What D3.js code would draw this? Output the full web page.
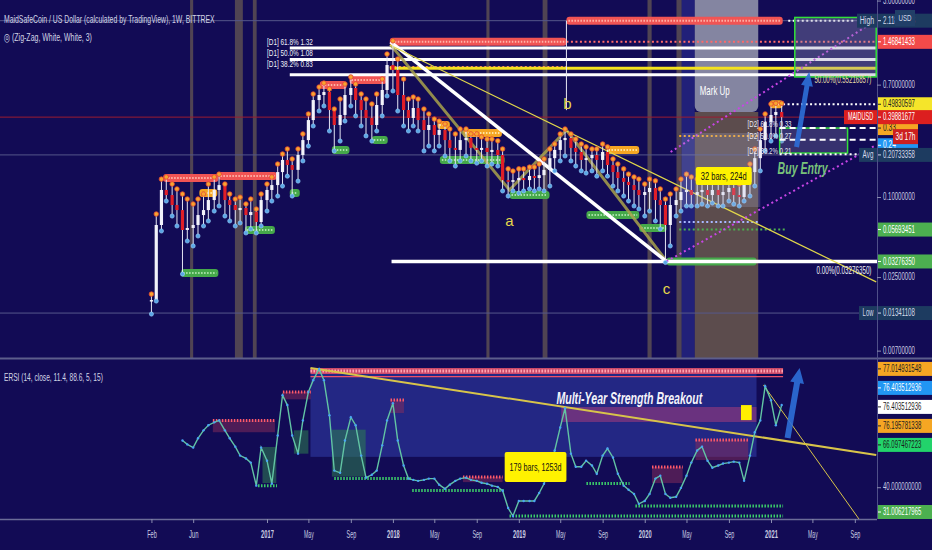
<!DOCTYPE html>
<html>
<head>
<meta charset="utf-8">
<title>MAIDUSD 1W</title>
<script src="https://cdn.jsdelivr.net/npm/d3@7/dist/d3.min.js"></script>
<style>
  html, body { margin: 0; padding: 0; background: #120b55; }
  svg text { font-family: "Liberation Sans Narrow", "Liberation Sans", "DejaVu Sans", sans-serif; }
</style>
</head>
<body>
<svg id="chart" width="932" height="550"></svg>
<script>
// ---------- data ----------
const candleDates = [
  "2016-02-01","2016-02-15","2016-03-01","2016-03-15","2016-04-01","2016-04-15","2016-05-01","2016-05-15","2016-06-01","2016-06-15","2016-07-01","2016-07-15",
  "2016-08-01","2016-08-15","2016-09-01","2016-09-15","2016-10-01","2016-10-15","2016-11-01","2016-11-15","2016-12-01","2016-12-15",
  "2017-01-01","2017-01-15","2017-02-01","2017-02-15","2017-03-01","2017-03-15","2017-04-01","2017-04-15","2017-05-01","2017-05-15","2017-06-01","2017-06-15",
  "2017-07-01","2017-07-15","2017-08-01","2017-08-15","2017-09-01","2017-09-15","2017-10-01","2017-10-15","2017-11-01","2017-11-15","2017-12-01","2017-12-15",
  "2018-01-01","2018-01-15","2018-02-01","2018-02-15","2018-03-01","2018-03-15","2018-04-01","2018-04-15","2018-05-01","2018-05-15","2018-06-01","2018-06-15",
  "2018-07-01","2018-07-15","2018-08-01","2018-08-15","2018-09-01","2018-09-15","2018-10-01","2018-10-15","2018-11-01","2018-11-15","2018-12-01","2018-12-15",
  "2019-01-01","2019-01-15","2019-02-01","2019-02-15","2019-03-01","2019-03-15","2019-04-01","2019-04-15","2019-05-01","2019-05-15","2019-06-01","2019-06-15",
  "2019-07-01","2019-07-15","2019-08-01","2019-08-15","2019-09-01","2019-09-15","2019-10-01","2019-10-15","2019-11-01","2019-11-15","2019-12-01","2019-12-15",
  "2020-01-01","2020-01-15","2020-02-01","2020-02-15","2020-03-01","2020-03-15","2020-04-01","2020-04-15","2020-05-01","2020-05-15","2020-06-01","2020-06-15",
  "2020-07-01","2020-07-15","2020-08-01","2020-08-15","2020-09-01","2020-09-15","2020-10-01","2020-10-15","2020-11-01","2020-11-15","2020-12-01","2020-12-15",
  "2021-01-01","2021-01-15","2021-02-01"
];
const candleHigh = [
  0.0183,0.0732,0.134,0.139,0.123,0.113,0.1035,0.0949,0.0871,0.0949,0.1035,0.123,0.139,0.146,0.123,0.1035,0.0949,0.098,0.0871,0.0949,0.0798,0.1035,
  0.123,0.139,0.174,0.207,0.226,0.190,0.226,0.293,0.414,0.585,0.660,0.707,0.638,0.451,0.536,0.695,0.785,0.695,0.585,0.536,0.492,0.585,0.758,1.169,
  1.46841433,1.072,0.758,0.536,0.555,0.536,0.451,0.414,0.379,0.366,0.348,0.319,0.293,0.319,0.319,0.293,0.293,0.278,0.268,0.268,0.260,0.226,0.160,0.154,
  0.160,0.160,0.165,0.165,0.174,0.190,0.226,0.246,0.293,0.319,0.293,0.268,0.246,0.234,0.226,0.226,0.246,0.234,0.190,0.174,0.160,0.146,0.139,0.134,
  0.123,0.134,0.130,0.113,0.0949,0.1035,0.113,0.134,0.146,0.139,0.134,0.139,0.134,0.139,0.130,0.134,0.139,0.130,0.123,0.146,0.174,0.226,0.319,0.414,
  0.492,0.498,0.498
];
const candleLow = [
  0.01341,0.0168,0.0565,0.0949,0.0732,0.0616,0.0268,0.0475,0.0436,0.0518,0.0616,0.0672,0.0798,0.0871,0.0732,0.0672,0.0616,0.0649,0.0546,0.0585,0.0546,0.0616,
  0.0798,0.0949,0.1035,0.123,0.146,0.1035,0.134,0.190,0.246,0.348,0.451,0.492,0.319,0.226,0.268,0.379,0.492,0.414,0.348,0.293,0.268,0.319,0.414,0.585,
  0.638,0.451,0.348,0.319,0.348,0.319,0.226,0.246,0.226,0.246,0.207,0.190,0.174,0.190,0.207,0.190,0.183,0.190,0.174,0.180,0.174,0.113,0.1035,0.113,
  0.109,0.113,0.117,0.113,0.117,0.113,0.123,0.160,0.190,0.207,0.190,0.174,0.160,0.154,0.160,0.146,0.160,0.146,0.123,0.113,0.1035,0.0949,0.0871,0.0827,
  0.0732,0.0798,0.0672,0.0585,0.03276,0.0436,0.0732,0.0798,0.0871,0.0871,0.0871,0.0901,0.0871,0.0917,0.0871,0.0871,0.0949,0.0901,0.0871,0.0949,0.1035,0.123,0.160,0.226,
  0.268,0.293,0.268
];
const candleClose = [
  0.0168,0.0616,0.113,0.1035,0.0871,0.0798,0.0565,0.0585,0.0616,0.0732,0.0798,0.0949,0.113,0.123,0.0949,0.0871,0.0798,0.0827,0.0732,0.0771,0.0649,0.0949,
  0.113,0.123,0.154,0.190,0.174,0.160,0.207,0.268,0.379,0.536,0.585,0.616,0.451,0.348,0.414,0.585,0.660,0.536,0.451,0.393,0.348,0.492,0.638,0.983,
  0.901,0.585,0.451,0.393,0.467,0.379,0.319,0.348,0.293,0.319,0.268,0.234,0.226,0.268,0.278,0.234,0.226,0.234,0.218,0.226,0.207,0.134,0.130,0.134,
  0.139,0.134,0.144,0.139,0.146,0.160,0.196,0.226,0.268,0.278,0.234,0.218,0.190,0.196,0.207,0.190,0.218,0.174,0.154,0.139,0.130,0.123,0.113,0.1035,
  0.109,0.117,0.0949,0.0871,0.0616,0.0871,0.0949,0.109,0.113,0.1035,0.109,0.113,0.1035,0.113,0.1035,0.109,0.117,0.1035,0.100,0.130,0.154,0.196,0.268,0.366,
  0.414,0.436,0.39881677
];
const ersiValues = [
  null,null,null,null,null,null,54.6,53.4,52.4,55.3,57.8,59.4,60.3,60.9,57.8,55.3,52.7,49.9,49.0,47.7,40.5,52.4,
  48.3,41.1,56.2,68.8,65.7,56.2,50.5,60.9,69.8,73.5,77.0,73.5,62.5,45.2,44.5,54.6,61.9,59.4,49.9,43.0,43.9,45.2,53.1,60.9,
  66.3,54.6,46.8,42.7,42.3,42.0,42.3,42.7,42.7,40.8,39.5,40.8,42.0,42.7,43.0,42.3,42.0,41.4,41.1,40.5,40.1,38.9,33.5,31.0,
  35.7,35.7,35.7,35.7,38.2,41.1,45.8,51.5,58.7,64.7,50.5,46.4,46.4,48.3,46.8,44.2,49.9,52.1,49.3,44.2,40.5,39.2,37.9,34.8,
  35.7,37.9,42.7,43.6,37.9,36.7,37.0,39.8,43.6,47.7,51.5,52.7,48.3,46.1,46.8,47.4,47.7,48.0,47.7,42.0,49.9,57.2,60.9,71.6,
  67.2,59.4,65.7
];

const xTickDates = ["2016-02-01","2016-06-01","2017-01-01","2017-05-01","2017-09-01","2018-01-01","2018-05-01","2018-09-01","2019-01-01","2019-05-01","2019-09-01","2020-01-01","2020-05-01","2020-09-01","2021-01-01","2021-05-01","2021-09-01"];
const xTickLabels = ["Feb","Jun","2017","May","Sep","2018","May","Sep","2019","May","Sep","2020","May","Sep","2021","May","Sep"];
const priceTicks = [3, 0.7, 0.1, 0.025, 0.007];
const ersiTicks = [40];

// time shading bands
const timeBands = [["2016-05-23","2016-06-01"],["2016-09-30","2016-10-23"],["2016-11-21","2016-12-02"],["2018-09-29","2018-10-08"],["2019-03-11","2019-03-25"],["2020-01-09","2020-01-21"],["2020-04-02","2020-04-17"]];
const markUpStrip = ["2020-04-17","2020-05-25"];
const markUpRange = ["2020-05-25","2020-11-25"];
const markUpBottom = 0.436;

// supply / demand zones [start, end, price]
const redZones = [["2016-03-06","2016-08-13",0.139],["2016-08-13","2017-01-30",0.144],["2017-06-03","2017-08-20",0.695],["2017-08-28","2017-12-14",0.758],["2017-12-23","2019-05-19",1.46841433],["2019-05-19","2021-02-04",2.118]];
const orangeZones = [["2016-06-19","2016-08-10",0.107],["2018-05-10","2018-06-15",0.348],["2018-07-23","2018-11-13",0.303],["2019-09-12","2019-12-16",0.226],["2020-12-28","2021-02-04",0.4983]];
const greenZones = [["2016-04-27","2016-08-13",0.0268],["2016-10-29","2017-01-24",0.0565],["2017-03-08","2017-04-06",0.107],["2017-07-08","2017-08-28",0.226],["2017-11-01","2017-12-17",0.268],["2018-05-17","2018-11-21",0.190],["2018-12-05","2019-03-31",0.1035],["2019-07-16","2019-12-16",0.0732],["2019-12-16","2020-03-04",0.0585],["2020-03-04","2020-11-20",0.0327635]];
const dottedLevels = [["2020-04-10","2020-11-25",0.288],["2020-04-10","2020-11-25",0.0649],["2020-04-10","2021-02-10",0.05693451],["2021-02-05","2021-11-02",0.49830597],["2021-02-20","2021-09-01",2.118],["2019-05-19","2021-11-02",1.46841433],["2017-12-23","2019-05-19",0.95]];
const dottedLevelColors = ["#f5a623","#a8b8ff","#4caf50","#ffffff","#ffffff","#ff6a6a","#ff7a6a"];

// fibonacci levels
const fibD1Values = [1.32, 1.08, 0.83];
const fibD1Labels = ["[D1] 61.8% 1.32","[D1] 50.0% 1.08","[D1] 38.2% 0.83"];
const fibD1Start = "2017-03-08";
const fibD1LabelDate = "2017-01-01";
const fibD2Values = [0.33, 0.27, 0.21];
const fibD2Labels = ["[D2] 61.8% 0.33","[D2] 50.0% 0.27","[D2] 38.2% 0.21"];
const fibD2LabelDate = "2020-10-25";
const yellowLevel = ["2017-12-23", 0.93];
const cLevel = ["2017-12-28", 0.0327635];

// zig-zag and trend lines
const zigWhite = [["2017-12-25",1.46841433],["2020-03-04",0.0327635]];
const zigOlive = [["2017-12-25",1.40],["2018-12-05",0.113],["2019-05-19",0.319],["2020-03-04",0.0330]];
const trendYellow = [["2017-12-23",1.39],["2021-11-02",0.0230]];
const channelUpper = [["2020-03-16",0.218],["2021-11-02",2.14]];
const channelLower = [["2020-03-04",0.0328],["2021-11-02",0.246]];
const bLine = ["2019-05-19", 2.118, 0.45];

const waveLabels = ["a","b","c"];
const waveDates = ["2018-12-05","2019-05-22","2020-03-04"];
const waveValues = [0.0649, 0.49, 0.0200];

// boxes [start, end, top, bottom]
const measureBox = ["2020-04-17","2020-12-01",0.303,0.0841];
const barsBoxUpper = ["2020-05-28","2020-11-06",0.168,0.123];
const targetBox = ["2021-03-11","2021-11-02",2.24,0.80];
const entryBox = ["2021-01-26","2021-08-11",0.330,0.214];
const upperArrow = [["2021-03-16",0.2377],["2021-04-22",0.871]];

const priceBadgeValues = [2.11826858, 1.46841433, 0.49830597, 0.39881677, 0.20733358, 0.05693451, 0.0327635, 0.01341108];
const priceBadgeTags = ["High", null, null, "MAIDUSD", "Avg", null, null, "Low"];
const lastPrice = 0.39881677;
const avgPrice = 0.20733358;
const lowPrice = 0.01341108;
const highPrice = 2.11826858;

// ERSI pane
const ersiZone = ["2017-05-07","2020-11-20",77.0,49.5];
const ersiResistance = ["2017-05-07","2021-02-05",77.014931548];
const ersiPinkBand = ["2019-05-04","2020-11-20",65.1,60.4];
const ersiBoxesUp = [["2017-07-08","2017-10-14",58.0,43.3],["2016-12-19","2017-01-28",52.6,41.3],["2017-03-20","2017-05-01",57.8,50.5]];
const ersiBoxesDown = [["2016-07-28","2017-01-24",60.9,57.2],["2017-02-16","2017-05-08",69.8,67.5],["2017-12-25","2018-02-02",67.3,63.2],["2020-01-22","2020-04-20",46.3,41.3],["2020-05-27","2020-10-27",54.8,48.5],["2018-07-23","2018-11-15",43.2,41.6]];
const ersiSupports = [["2016-12-06","2017-01-30",40.5],["2017-07-15","2018-02-26",42.7],["2018-02-26","2018-11-21",39.0],["2019-07-16","2019-11-18",41.2],["2019-12-05","2021-02-05",34.1],["2018-12-05","2021-02-05",31.0]];
const ersiTrendA = [["2017-05-07",77.3],["2021-11-02",50.1]];
const ersiTrendB = [["2020-12-10",72.0],["2021-09-13",30.06]];
const ersiFlag = ["2020-10-06","2020-11-06",65.7,61.0];
const barsBoxLower = ["2018-11-21","2019-05-19",51.0,41.6];
const lowerArrow = [["2021-02-18",55.4],["2021-03-25",77.3]];
const ersiTextAnchor = ["2019-04-20", 67.3];
const ersiBadgeValues = [77.014931548, 76.403512936, 76.403512936, 76.195781338, 66.097467223, 31.006217965];

// ---------- setup ----------
const parse = d3.timeParse("%Y-%m-%d");
const fmt8 = d3.format(".8f");
const fmt9 = d3.format(".9f");

const width = 932, height = 550;
const plotRight = 877;
const mainBottom = 358, subTop = 360, subBottom = 519;
const textColor = "#c9cce2";

const svg = d3.select("#chart");
svg.append("rect").attr("width", width).attr("height", height).attr("fill", "#120b55");

const x = d3.scaleTime()
  .domain([parse("2017-01-01"), parse("2021-01-01")])
  .range([267, 771]);
x.domain([x.invert(0), x.invert(plotRight)]).range([0, plotRight]);

const y = d3.scaleLog().domain([0.00616, 3.03]).range([mainBottom, 0]);
const yE = d3.scaleLinear().domain([30.06, 79.8]).range([subBottom, subTop]);
const xd = d => x(parse(d));

const candles = candleDates.map((d, i) => ({
  date: parse(d),
  high: candleHigh[i],
  low: candleLow[i],
  close: candleClose[i],
  open: i > 0 ? candleClose[i - 1] : candleClose[i],
  ersi: ersiValues[i]
}));

const defs = svg.append("defs");
defs.append("clipPath").attr("id", "clipMain")
  .append("rect").attr("width", plotRight).attr("height", mainBottom);
defs.append("clipPath").attr("id", "clipSub")
  .append("rect").attr("y", subTop).attr("width", plotRight).attr("height", subBottom - subTop);

const main = svg.append("g").attr("clip-path", "url(#clipMain)");
const sub = svg.append("g").attr("clip-path", "url(#clipSub)");

// squeeze a text horizontally so it takes the given width (narrow TradingView look)
const squeeze = (t, px, py, w) => {
  const natural = t.node().getComputedTextLength();
  const sx = natural > 0 ? w / natural : 1;
  t.attr("x", 0).attr("y", 0).attr("transform", `translate(${px},${py}) scale(${sx},1)`);
};

const addText = (parent, px, py, str, size, fill, opts = {}) => {
  const t = parent.append("text")
    .attr("x", px).attr("y", py)
    .attr("font-size", size).attr("fill", fill)
    .attr("dominant-baseline", "middle")
    .text(str);
  if (opts.anchor) t.attr("text-anchor", opts.anchor);
  if (opts.weight) t.attr("font-weight", opts.weight);
  if (opts.style) t.attr("font-style", opts.style);
  if (opts.family) t.attr("font-family", opts.family);
  if (opts.width) squeeze(t, px, py, opts.width);
  return t;
};

const linePath = (pts, ys) => d3.line().x(d => xd(d[0])).y(d => ys(d[1]))(pts);

const arrowPath = (x0, y0, x1, y1, shaft, head, headLen) => {
  const L = Math.hypot(x1 - x0, y1 - y0);
  const ux = (x1 - x0) / L, uy = (y1 - y0) / L, px = -uy, py = ux;
  const bx = x1 - ux * headLen, by = y1 - uy * headLen;
  const pts = [
    [x0 + px * shaft / 2, y0 + py * shaft / 2],
    [bx + px * shaft / 2, by + py * shaft / 2],
    [bx + px * head / 2, by + py * head / 2],
    [x1, y1],
    [bx - px * head / 2, by - py * head / 2],
    [bx - px * shaft / 2, by - py * shaft / 2],
    [x0 - px * shaft / 2, y0 - py * shaft / 2]
  ];
  return "M" + pts.join("L") + "Z";
};

// ---------- main pane ----------
// background shading
main.selectAll(".band")
  .data(timeBands)
  .join("rect")
  .attr("class", "band")
  .attr("x", d => xd(d[0]))
  .attr("width", d => xd(d[1]) - xd(d[0]))
  .attr("y", 0).attr("height", mainBottom)
  .attr("fill", "#7a6a52").attr("opacity", 0.6);

main.append("rect")
  .attr("x", xd(markUpStrip[0])).attr("width", xd(markUpStrip[1]) - xd(markUpStrip[0]))
  .attr("y", 0).attr("height", mainBottom)
  .attr("fill", "#3a40b0").attr("opacity", 0.4);

main.append("rect")
  .attr("x", xd(markUpRange[0])).attr("width", xd(markUpRange[1]) - xd(markUpRange[0]))
  .attr("y", y(markUpBottom)).attr("height", mainBottom - y(markUpBottom))
  .attr("fill", "#6a584c").attr("opacity", 0.85);

// Mark Up box
main.append("rect")
  .attr("x", xd(markUpRange[0])).attr("width", xd(markUpRange[1]) - xd(markUpRange[0]))
  .attr("y", -8).attr("height", y(markUpBottom) + 8)
  .attr("rx", 6)
  .attr("fill", "#8e90a8").attr("opacity", 0.92);

// reference lines
main.selectAll(".ref")
  .data([highPrice, avgPrice, lowPrice])
  .join("line")
  .attr("class", "ref")
  .attr("x1", 0).attr("x2", plotRight)
  .attr("y1", d => y(d)).attr("y2", d => y(d))
  .attr("stroke", "#55578a").attr("stroke-width", 1);

main.append("line")
  .attr("x1", 0).attr("x2", plotRight)
  .attr("y1", y(lastPrice)).attr("y2", y(lastPrice))
  .attr("stroke", "#9c1c30").attr("stroke-width", 1);

// zones
const drawZones = (data, fill, dot) => {
  const g = main.append("g");
  g.selectAll("rect")
    .data(data)
    .join("rect")
    .attr("x", d => xd(d[0]))
    .attr("width", d => xd(d[1]) - xd(d[0]))
    .attr("y", d => y(d[2]) - 4).attr("height", 8)
    .attr("rx", 3)
    .attr("fill", fill);
  g.selectAll("line")
    .data(data)
    .join("line")
    .attr("x1", d => xd(d[0]) + 2).attr("x2", d => xd(d[1]) - 2)
    .attr("y1", d => y(d[2])).attr("y2", d => y(d[2]))
    .attr("stroke", dot).attr("stroke-width", 2)
    .attr("stroke-dasharray", "1.5 1.5");
};
drawZones(redZones, "#f05454", "#ffb4a8");
drawZones(orangeZones, "#f5a623", "#ffe2a0");
drawZones(greenZones, "#45a84a", "#a8e2a8");

main.selectAll(".dlevel")
  .data(dottedLevels)
  .join("line")
  .attr("class", "dlevel")
  .attr("x1", d => xd(d[0])).attr("x2", d => xd(d[1]))
  .attr("y1", d => y(d[2])).attr("y2", d => y(d[2]))
  .attr("stroke", (d, i) => dottedLevelColors[i])
  .attr("stroke-width", 2)
  .attr("stroke-dasharray", "2 2.5");

// fib lines
main.selectAll(".fib1")
  .data(fibD1Values)
  .join("line")
  .attr("class", "fib1")
  .attr("x1", xd(fibD1Start)).attr("x2", plotRight)
  .attr("y1", d => y(d)).attr("y2", d => y(d))
  .attr("stroke", "#ffffff").attr("stroke-width", 3);

main.append("line")
  .attr("x1", xd(yellowLevel[0])).attr("x2", plotRight)
  .attr("y1", y(yellowLevel[1])).attr("y2", y(yellowLevel[1]))
  .attr("stroke", "#f4e21e").attr("stroke-width", 3);

main.append("line")
  .attr("x1", xd(cLevel[0])).attr("x2", plotRight)
  .attr("y1", y(cLevel[1])).attr("y2", y(cLevel[1]))
  .attr("stroke", "#ffffff").attr("stroke-width", 3.5);

// zig-zags and trend lines
main.append("path").attr("d", linePath(zigOlive, y))
  .attr("fill", "none").attr("stroke", "#a8a24c").attr("stroke-width", 3).attr("opacity", 0.85);
main.append("path").attr("d", linePath(zigWhite, y))
  .attr("fill", "none").attr("stroke", "#ffffff").attr("stroke-width", 3.5);
main.append("path").attr("d", linePath(trendYellow, y))
  .attr("fill", "none").attr("stroke", "#e2d84a").attr("stroke-width", 1.2);
main.selectAll(".chan")
  .data([channelUpper, channelLower])
  .join("path")
  .attr("class", "chan")
  .attr("d", d => linePath(d, y))
  .attr("fill", "none").attr("stroke", "#c845e6").attr("stroke-width", 2)
  .attr("stroke-dasharray", "2 3");
main.append("line")
  .attr("x1", xd(bLine[0])).attr("x2", xd(bLine[0]))
  .attr("y1", y(bLine[1])).attr("y2", y(bLine[2]))
  .attr("stroke", "#e8e8f4").attr("stroke-width", 1);

// candles
const wickG = main.append("g");
wickG.selectAll("line")
  .data(candles)
  .join("line")
  .attr("x1", d => x(d.date)).attr("x2", d => x(d.date))
  .attr("y1", d => y(d.high)).attr("y2", d => y(d.low))
  .attr("stroke", "#e4e4f2").attr("stroke-width", 1);

const bodyG = main.append("g");
bodyG.selectAll("rect")
  .data(candles)
  .join("rect")
  .attr("x", d => x(d.date) - 1.6).attr("width", 3.2)
  .attr("y", d => y(Math.max(d.open, d.close)))
  .attr("height", d => Math.max(1.5, Math.abs(y(d.open) - y(d.close))))
  .attr("fill", d => d.close >= d.open ? "#f2f2fa" : "#e01e28");

const markG = main.append("g");
markG.selectAll(".hi")
  .data(candles)
  .join("circle")
  .attr("class", "hi")
  .attr("cx", d => x(d.date)).attr("cy", d => y(d.high) - 1)
  .attr("r", 2.3)
  .attr("fill", "#f7a531").attr("stroke", "#e2452f").attr("stroke-width", 0.8);
markG.selectAll(".lo")
  .data(candles)
  .join("circle")
  .attr("class", "lo")
  .attr("cx", d => x(d.date)).attr("cy", d => y(d.low) + 1)
  .attr("r", 2.1)
  .attr("fill", "#5aa6e6").attr("stroke", "#9ad4ff").attr("stroke-width", 0.6);

// measurement / target boxes
const boxAttrs = (sel, b, ys) => sel
  .attr("x", xd(b[0])).attr("width", xd(b[1]) - xd(b[0]))
  .attr("y", ys(b[2])).attr("height", ys(b[3]) - ys(b[2]));

boxAttrs(main.append("rect"), measureBox, y).attr("fill", "#b8bce0").attr("opacity", 0.22);
boxAttrs(main.append("rect"), targetBox, y)
  .attr("fill", "#9a9cbc").attr("fill-opacity", 0.35)
  .attr("stroke", "#33e03a").attr("stroke-width", 1.5);
boxAttrs(main.append("rect"), entryBox, y)
  .attr("fill", "#8a8cac").attr("fill-opacity", 0.3)
  .attr("stroke", "#33e03a").attr("stroke-width", 1.5);

main.selectAll(".fib2")
  .data(fibD2Values)
  .join("line")
  .attr("class", "fib2")
  .attr("x1", xd(entryBox[0])).attr("x2", plotRight)
  .attr("y1", d => y(d)).attr("y2", d => y(d))
  .attr("stroke", "#ffffff").attr("stroke-width", 2)
  .attr("stroke-dasharray", (d, i) => i < 2 ? "6 4" : "2 3");

fibD2Labels.forEach((t, i) => {
  addText(main, xd(fibD2LabelDate), y(fibD2Values[i]) - 3, t, 9, "#e8e8f4", { width: 44 });
});

boxAttrs(main.append("rect"), barsBoxUpper, y).attr("fill", "#fff200").attr("rx", 2);
addText(main, (xd(barsBoxUpper[0]) + xd(barsBoxUpper[1])) / 2, (y(barsBoxUpper[2]) + y(barsBoxUpper[3])) / 2 + 1,
  "32 bars, 224d", 11, "#111111", { anchor: "middle", width: 46, family: "Liberation Serif, serif" });

main.append("path")
  .attr("d", arrowPath(xd(upperArrow[0][0]), y(upperArrow[0][1]), xd(upperArrow[1][0]), y(upperArrow[1][1]), 5, 12, 14))
  .attr("fill", "#2d6fd8").attr("opacity", 0.9);

// texts in main pane
fibD1Labels.forEach((t, i) => {
  addText(main, xd(fibD1LabelDate), y(fibD1Values[i]) - 6 - (i === 2 ? 4 : 0), t, 9.5, "#eef0f8", { width: 46 });
});
waveLabels.forEach((t, i) => {
  addText(main, xd(waveDates[i]), y(waveValues[i]), t, 15, "#e6d84a", { anchor: "middle" });
});
addText(main, xd(markUpRange[0]) + 5, y(0.616), "Mark Up", 12, "#ffffff", { width: 30 });
addText(main, xd(entryBox[0]) - 2, y(0.16), "Buy Entry", 16, "#78c27a", { weight: "bold", style: "italic", width: 50 });
addText(main, x(parse("2021-05-07")), y(0.758), "50.00%(0.55216857)", 10, "#e6dfa8", { width: 57 });
addText(main, x(parse("2021-05-13")), y(0.0278), "0.00%(0.03276350)", 10, "#eef0f8", { width: 55 });

// ---------- ERSI pane ----------
boxAttrs(sub.append("rect"), ersiZone, yE).attr("fill", "#3444b4").attr("opacity", 0.5);
boxAttrs(sub.append("rect"), ersiPinkBand, yE).attr("fill", "#c0407a").attr("opacity", 0.45);

sub.selectAll(".eup")
  .data(ersiBoxesUp)
  .join("rect")
  .attr("class", "eup")
  .attr("x", d => xd(d[0])).attr("width", d => xd(d[1]) - xd(d[0]))
  .attr("y", d => yE(d[2])).attr("height", d => yE(d[3]) - yE(d[2]))
  .attr("fill", "#2e8050").attr("opacity", 0.55);

sub.selectAll(".edown")
  .data(ersiBoxesDown)
  .join("rect")
  .attr("class", "edown")
  .attr("x", d => xd(d[0])).attr("width", d => xd(d[1]) - xd(d[0]))
  .attr("y", d => yE(d[2])).attr("height", d => yE(d[3]) - yE(d[2]))
  .attr("fill", "#8a2e5a").attr("opacity", 0.5);
sub.selectAll(".edtop")
  .data(ersiBoxesDown)
  .join("line")
  .attr("class", "edtop")
  .attr("x1", d => xd(d[0])).attr("x2", d => xd(d[1]))
  .attr("y1", d => yE(d[2])).attr("y2", d => yE(d[2]))
  .attr("stroke", "#ff5a6a").attr("stroke-width", 3)
  .attr("stroke-dasharray", "1.5 1.5");

sub.append("line")
  .attr("x1", xd(ersiResistance[0])).attr("x2", xd(ersiResistance[1]))
  .attr("y1", yE(ersiResistance[2]) + 2).attr("y2", yE(ersiResistance[2]) + 2)
  .attr("stroke", "#e0506a").attr("stroke-width", 6).attr("opacity", 0.9);
sub.append("line")
  .attr("x1", xd(ersiResistance[0])).attr("x2", xd(ersiResistance[1]))
  .attr("y1", yE(ersiResistance[2]) + 2).attr("y2", yE(ersiResistance[2]) + 2)
  .attr("stroke", "#ffa8b4").attr("stroke-width", 3).attr("stroke-dasharray", "1.5 1.5");
sub.append("line")
  .attr("x1", xd(ersiResistance[0])).attr("x2", xd(ersiResistance[1]))
  .attr("y1", yE(74.6)).attr("y2", yE(74.6))
  .attr("stroke", "#f0506a").attr("stroke-width", 1.2);

sub.selectAll(".esup")
  .data(ersiSupports)
  .join("line")
  .attr("class", "esup")
  .attr("x1", d => xd(d[0])).attr("x2", d => xd(d[1]))
  .attr("y1", d => yE(d[2])).attr("y2", d => yE(d[2]))
  .attr("stroke", "#3ccf6a").attr("stroke-width", 3)
  .attr("stroke-dasharray", "1.5 1.5");

sub.append("path").attr("d", linePath(ersiTrendA, yE))
  .attr("fill", "none").attr("stroke", "#d8c44a").attr("stroke-width", 2);
sub.append("path").attr("d", linePath(ersiTrendB, yE))
  .attr("fill", "none").attr("stroke", "#d8c44a").attr("stroke-width", 1);

const ersiPts = candles.filter(d => d.ersi !== null);
sub.append("path")
  .datum(ersiPts)
  .attr("d", d3.line().x(d => x(d.date)).y(d => yE(d.ersi)))
  .attr("fill", "none").attr("stroke", "#62c4a4").attr("stroke-width", 1.4);
sub.selectAll(".edot")
  .data(ersiPts)
  .join("circle")
  .attr("class", "edot")
  .attr("cx", d => x(d.date)).attr("cy", d => yE(d.ersi))
  .attr("r", 1.2).attr("fill", "#4aa4f5");

boxAttrs(sub.append("rect"), ersiFlag, yE).attr("fill", "#ffee00");
boxAttrs(sub.append("rect"), barsBoxLower, yE).attr("fill", "#fff200").attr("rx", 2);
addText(sub, (xd(barsBoxLower[0]) + xd(barsBoxLower[1])) / 2, (yE(barsBoxLower[2]) + yE(barsBoxLower[3])) / 2 + 1,
  "179 bars, 1253d", 11, "#111111", { anchor: "middle", width: 52, family: "Liberation Serif, serif" });

addText(sub, xd(ersiTextAnchor[0]), yE(ersiTextAnchor[1]), "Multi-Year Strength Breakout", 16, "#f4f4fa",
  { weight: "bold", style: "italic", width: 146 });

sub.append("path")
  .attr("d", arrowPath(xd(lowerArrow[0][0]), yE(lowerArrow[0][1]), xd(lowerArrow[1][0]), yE(lowerArrow[1][1]), 6, 14, 15))
  .attr("fill", "#2d6fd8").attr("opacity", 0.9);

// ---------- axes ----------
svg.append("line")
  .attr("x1", 0).attr("x2", width).attr("y1", 358.5).attr("y2", 358.5)
  .attr("stroke", "#5d5e8c").attr("stroke-width", 2);
svg.append("line")
  .attr("x1", plotRight + 0.5).attr("x2", plotRight + 0.5).attr("y1", 0).attr("y2", subBottom)
  .attr("stroke", "#4f5088").attr("stroke-width", 1);

const styleAxis = (g, charW, orient) => {
  g.select(".domain").remove();
  g.selectAll(".tick line").attr("stroke", "#8a8cb0");
  g.selectAll(".tick text")
    .attr("fill", textColor)
    .attr("font-size", 10)
    .each(function () {
      const s = d3.select(this);
      const w = s.text().length * charW;
      if (orient === "right") {
        const px = +s.attr("x");
        s.attr("dy", null).attr("dominant-baseline", "middle");
        squeeze(s, px, 0, w);
      } else {
        const py = +s.attr("y");
        s.attr("dy", null).attr("dominant-baseline", "middle");
        squeeze(s, 0, py + 4, w);
      }
    });
};

svg.append("g")
  .attr("transform", `translate(${plotRight},0)`)
  .call(d3.axisRight(y).tickValues(priceTicks).tickFormat(fmt8).tickSize(4).tickPadding(2))
  .call(g => styleAxis(g, 3.2, "right"));

svg.append("g")
  .attr("transform", `translate(${plotRight},0)`)
  .call(d3.axisRight(yE).tickValues(ersiTicks).tickFormat(fmt9).tickSize(4).tickPadding(2))
  .call(g => styleAxis(g, 3.2, "right"));

svg.append("line")
  .attr("x1", 0).attr("x2", plotRight).attr("y1", subBottom + 0.5).attr("y2", subBottom + 0.5)
  .attr("stroke", "#6b6c98").attr("stroke-width", 1.5);

svg.append("g")
  .attr("transform", `translate(0,${subBottom})`)
  .call(d3.axisBottom(x).tickValues(xTickDates.map(parse)).tickFormat((d, i) => xTickLabels[i]).tickSize(4).tickPadding(8))
  .call(g => g.selectAll(".tick text").attr("font-weight", (d, i) => /^\d/.test(xTickLabels[i]) ? "bold" : null))
  .call(g => styleAxis(g, 3.2, "bottom"));

// ---------- price badges ----------
const badgeStyle = [
  { fill: "#1d3b60", color: "#d5d9ea" },
  { fill: "#f24a4a", color: "#ffffff" },
  { fill: "#f5e52a", color: "#222222" },
  { fill: "#dc1f1f", color: "#ffffff" },
  { fill: "#1d3b60", color: "#d5d9ea" },
  { fill: "#4caf50", color: "#ffffff" },
  { fill: "#4caf50", color: "#ffffff" },
  { fill: "#1d3b60", color: "#d5d9ea" }
];
const tagWidth = { High: 20, Avg: 18, Low: 18, MAIDUSD: 33 };

const badge = (py, text, fill, color, bw = 54) => {
  svg.append("rect").attr("x", plotRight + 1).attr("y", py - 7).attr("width", bw).attr("height", 14).attr("fill", fill);
  svg.append("line").attr("x1", plotRight + 1).attr("x2", plotRight + 4).attr("y1", py).attr("y2", py).attr("stroke", color);
  addText(svg, plotRight + 6, py + 0.5, text, 10, color, { width: text.length * 3.2 });
};

// partially hidden labels under the countdown
badge(y(0.33), "0.33", "#f5a623", "#222222", 40);
badge(y(0.245), "0.24", "#2196f3", "#ffffff", 40);

priceBadgeValues.forEach((v, i) => {
  const py = y(v);
  const st = badgeStyle[i];
  badge(py, fmt8(v), st.fill, st.color);
  const tag = priceBadgeTags[i];
  if (tag) {
    const tw = tagWidth[tag];
    svg.append("rect").attr("x", plotRight - tw).attr("y", py - 7).attr("width", tw).attr("height", 14).attr("fill", st.fill);
    addText(svg, plotRight - tw / 2, py + 0.5, tag, 10, st.color, { anchor: "middle", width: tag.length * 3.6 });
  }
});

// countdown under last price
svg.append("rect").attr("x", plotRight + 16).attr("y", y(lastPrice) + 12).attr("width", 25).attr("height", 15).attr("fill", "#cc1f1f");
addText(svg, plotRight + 28.5, y(lastPrice) + 20, "3d 17h", 10, "#ffffff", { anchor: "middle", width: 20 });

// currency tag
svg.append("rect").attr("x", plotRight + 18).attr("y", 10).attr("width", 20).attr("height", 16).attr("fill", "#213f68");
addText(svg, plotRight + 28, 18.5, "USD", 9, "#d5d9ea", { anchor: "middle", width: 13 });

// ---------- ERSI badges (stacked) ----------
const ersiBadgeStyle = [
  { fill: "#f5a623", color: "#222222" },
  { fill: "#2196f3", color: "#ffffff" },
  { fill: "#ffffff", color: "#222222" },
  { fill: "#f5a623", color: "#222222" },
  { fill: "#22d36b", color: "#1a1a1a" },
  { fill: "#4caf50", color: "#ffffff" }
];
let lastY = -Infinity;
ersiBadgeValues.forEach((v, i) => {
  let py = Math.max(yE(v), lastY + 19);
  py = Math.min(py, subBottom - 7);
  lastY = py;
  badge(py, fmt9(v), ersiBadgeStyle[i].fill, ersiBadgeStyle[i].color);
});

// ---------- titles ----------
addText(svg, 4, 20, "MaidSafeCoin / US Dollar (calculated by TradingView), 1W, BITTREX", 11, "#d2d5e6", { width: 211 });
addText(svg, 4, 38, "\u25CE  (Zig-Zag, White, White, 3)", 11, "#d2d5e6", { width: 88 });
addText(svg, 4, 378, "ERSI (14, close, 11.4, 88.6, 5, 15)", 11, "#d2d5e6", { width: 99 });
</script>
</body>
</html>
